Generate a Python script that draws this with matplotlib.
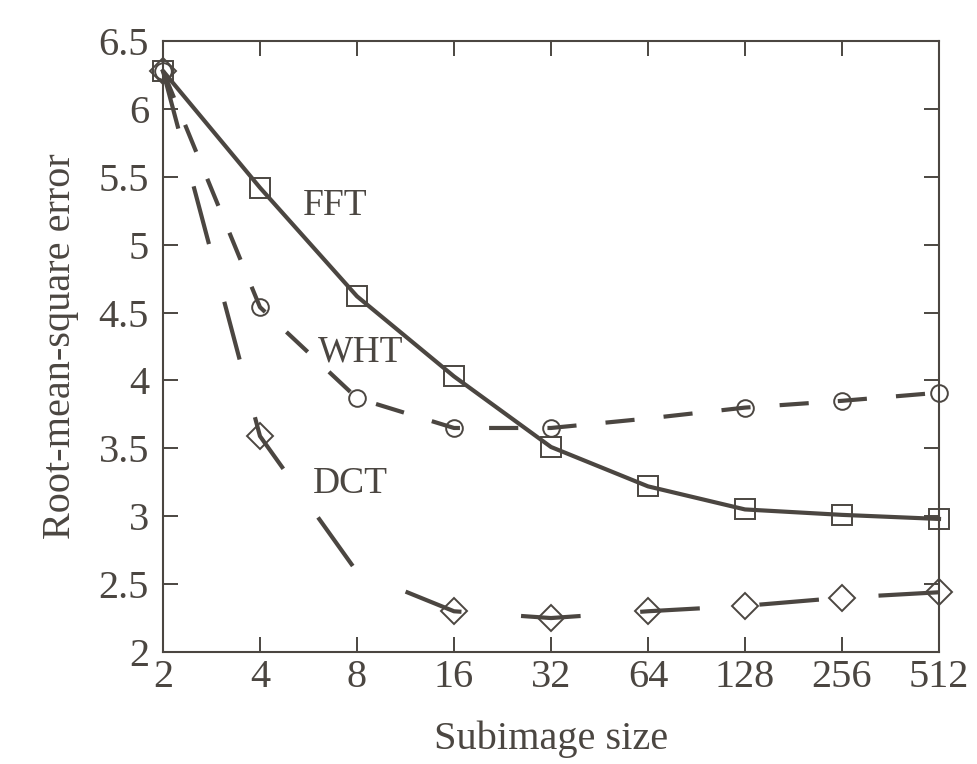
import matplotlib
matplotlib.use("Agg")
from matplotlib import pyplot as plt
from matplotlib.ticker import NullLocator

# Subimage sizes and RMS errors
sizes = [2, 4, 8, 16, 32, 64, 128, 256, 512]
fft = [6.28, 5.42, 4.62, 4.03, 3.51, 3.22, 3.05, 3.01, 2.98]
wht = [6.28, 4.54, 3.87, 3.65, 3.65, 3.72, 3.80, 3.85, 3.91]
dct = [6.28, 3.59, 2.59, 2.30, 2.25, 2.30, 2.34, 2.40, 2.44]
y_ticks = [2, 2.5, 3, 3.5, 4, 4.5, 5, 5.5, 6, 6.5]
y_tick_labels = ["2", "2.5", "3", "3.5", "4", "4.5", "5", "5.5", "6", "6.5"]

ink = "#4b4641"
plt.rcParams['font.family'] = ['Liberation Serif', 'DejaVu Serif']
plt.rcParams['lines.scale_dashes'] = False

fig = plt.figure(figsize=(9.77, 7.64), dpi=100)
ax = fig.add_axes([0.1668, 0.1466, 0.7943, 0.7997])

common = dict(color=ink, lw=3, mfc='none', mec=ink, mew=1.4, clip_on=False, zorder=3)
ax.plot(sizes, fft, '-', marker='s', ms=14, **common)
ax.plot(sizes, wht, marker='o', ms=12, dashes=(21, 21),
        markevery=[0, 1, 2, 3, 4, 6, 7, 8], **common)
ax.plot(sizes, dct, marker='D', ms=13, dashes=(43, 43),
        markevery=[0, 1, 3, 4, 5, 6, 7, 8], **common)

ax.text(5.44, 5.29, "FFT", fontsize=27, color=ink, ha='left', va='center')
ax.text(6.06, 4.21, "WHT", fontsize=27, color=ink, ha='left', va='center')
ax.text(5.84, 3.24, "DCT", fontsize=27, color=ink, ha='left', va='center')

ax.set_xscale('log', base=2)
ax.set_xlim(2, 512)
ax.set_ylim(2, 6.5)
ax.set_xticks(sizes)
ax.set_xticklabels([str(s) for s in sizes])
ax.xaxis.set_minor_locator(NullLocator())
ax.set_yticks(y_ticks)
ax.set_yticklabels(y_tick_labels)

for s in ax.spines.values():
    s.set_color(ink)
    s.set_linewidth(1.5)
ax.tick_params(direction='in', length=11, width=1.4, color=ink,
               labelcolor=ink, labelsize=29, top=True, right=True)
ax.tick_params(axis='x', pad=5)
ax.tick_params(axis='y', pad=10)

ax.set_xlabel("Subimage size", fontsize=29, color=ink, labelpad=18)
ax.set_ylabel("Root-mean-square error", fontsize=29, color=ink, labelpad=14)

fig.savefig("out.png", dpi=100)
